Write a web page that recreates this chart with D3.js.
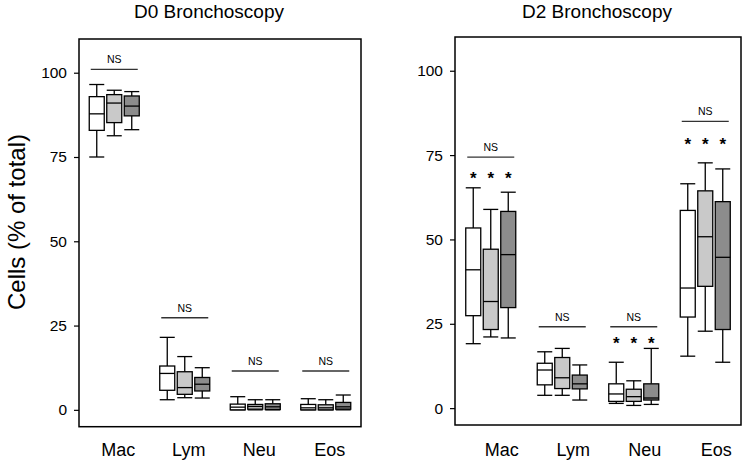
<!DOCTYPE html>
<html><head><meta charset="utf-8">
<script src="https://cdn.jsdelivr.net/npm/d3@7"></script>
<style>body{margin:0;background:#fff}svg{display:block}text{font-family:"Liberation Sans",Arial,sans-serif;fill:#000}</style>
</head><body><svg id="c" width="746" height="465"></svg>
<script>
// ---- data ----
const categories = ["Mac","Lym","Neu","Eos"];
const yTicks = [0,25,50,75,100];
const seriesNames = ["white","light","dark"];
// [low whisker, Q1, median, Q3, high whisker] per category
const d0_white = [[75.0,82.9,87.8,92.9,96.5],[3.0,5.8,10.8,13.0,21.5],[0,0,0.8,1.7,3.9],[0,0,0.6,1.6,3.3]];
const d0_light = [[81.3,85.2,91.0,93.5,94.8],[3.6,4.6,6.6,11.3,15.8],[0,0.2,1.0,1.6,3.0],[0,0,0.6,1.5,3.0]];
const d0_dark  = [[83.1,87.2,90.1,93.1,94.4],[3.5,5.6,7.6,9.6,12.5],[0,0.1,0.9,1.8,3.0],[0,0.2,0.9,2.2,4.4]];
const d2_white = [[19.1,27.4,41.0,53.4,65.3],[3.8,6.9,11.3,13.3,16.7],[1.4,2.0,4.2,7.2,13.6],[15.4,27.0,35.6,58.6,66.5]];
const d2_light = [[21.1,23.3,31.6,47.1,58.9],[3.8,5.8,9.0,15.0,17.7],[0.8,2.0,3.4,5.6,8.1],[22.8,36.1,50.8,64.4,72.7]];
const d2_dark  = [[20.8,29.8,45.5,58.3,64.0],[2.4,5.7,7.2,9.8,12.8],[1.1,2.4,3.0,7.2,17.7],[13.6,23.3,44.7,61.2,70.9]];
// NS bracket levels and significance star levels per category
const d0_ns = [101.0,27.3,11.5,11.5];
const d2_ns = [74.4,24.1,24.1,85.0];
const d0_stars = [null,null,null,null];
const d2_stars = [69.0,null,20.1,79.1];
const titles = ["D0 Bronchoscopy","D2 Bronchoscopy"];
const yLabel = "Cells (% of total)";

// ---- drawing ----
const svg = d3.select("#c");
const fills = {white:"#ffffff", light:"#c9c9c9", dark:"#8c8c8c"};
const panels = [
  {title:titles[0], series:[d0_white,d0_light,d0_dark], ns:d0_ns, stars:d0_stars,
   x0:79, x1:361, y0:39, y1:426.7, titleX:209, labelShift:4},
  {title:titles[1], series:[d2_white,d2_light,d2_dark], ns:d2_ns, stars:d2_stars,
   x0:455, x1:741, y0:37, y1:425, titleX:597, labelShift:11}
];
const boxW = 15, offs = [-17.5,0,17.5];

panels.forEach(p=>{
  const g = svg.append("g");
  const x = d3.scaleBand().domain(categories).range([p.x0,p.x1]).padding(0);
  const y = d3.scaleLinear().domain([-5,110]).range([p.y1,p.y0]);
  const cx = c => x(c)+x.bandwidth()/2;

  // y axis
  const ax = g.append("g").attr("transform",`translate(${p.x0},0)`)
    .call(d3.axisLeft(y).tickValues(yTicks).tickSize(5).tickPadding(7));
  ax.select(".domain").remove();
  ax.selectAll(".tick line").attr("stroke","#000").attr("stroke-width",1.2);
  ax.selectAll(".tick text").style("font-size","15.5px").style("font-family",'"Liberation Sans",Arial,sans-serif').attr("fill","#000");

  // category labels
  g.selectAll(".cat").data(categories).join("text")
    .attr("x",c=>cx(c)+p.labelShift).attr("y",455.5)
    .attr("text-anchor","middle").style("font-size","18px").text(c=>c);

  // title
  g.append("text").attr("x",p.titleX).attr("y",17.5).attr("text-anchor","middle")
    .style("font-size","19px").text(p.title);

  // boxes
  p.series.forEach((ser,si)=>{
    ser.forEach((v,ci)=>{
      const c = categories[ci];
      const xc = cx(c)+offs[si];
      const bg = g.append("g");
      const line=(x1,y1,x2,y2)=>bg.append("line").attr("x1",x1).attr("y1",y1).attr("x2",x2).attr("y2",y2)
        .attr("stroke","#000").attr("stroke-width",1.3);
      line(xc,y(v[4]),xc,y(v[3]));
      line(xc,y(v[0]),xc,y(v[1]));
      line(xc-boxW/2,y(v[4]),xc+boxW/2,y(v[4]));
      line(xc-boxW/2,y(v[0]),xc+boxW/2,y(v[0]));
      bg.append("rect").attr("x",xc-boxW/2).attr("y",y(v[3]))
        .attr("width",boxW).attr("height",Math.max(0.01,y(v[1])-y(v[3])))
        .attr("fill",fills[seriesNames[si]]).attr("stroke","#000").attr("stroke-width",1.3);
      line(xc-boxW/2,y(v[2]),xc+boxW/2,y(v[2]));
    });
  });

  // NS brackets
  p.ns.forEach((v,ci)=>{
    if(v==null) return;
    const c = categories[ci], xc = cx(c);
    g.append("line").attr("x1",xc-23.5).attr("x2",xc+23.5).attr("y1",y(v)).attr("y2",y(v))
      .attr("stroke","#333").attr("stroke-width",1.4);
    g.append("text").attr("x",xc).attr("y",y(v)-6).attr("text-anchor","middle")
      .style("font-size","10.5px").text("NS");
  });

  // stars
  p.stars.forEach((v,ci)=>{
    if(v==null) return;
    const c = categories[ci];
    offs.forEach(o=>{
      g.append("text").attr("x",cx(c)+o).attr("y",y(v)+9).attr("text-anchor","middle")
        .style("font-size","17px").style("font-weight","bold").text("*");
    });
  });

  // frame
  g.append("rect").attr("x",p.x0).attr("y",p.y0).attr("width",p.x1-p.x0).attr("height",p.y1-p.y0)
    .attr("fill","none").attr("stroke","#000").attr("stroke-width",1.5);
});

// y label
svg.append("text").attr("transform","translate(25,222) rotate(-90)")
  .attr("text-anchor","middle").style("font-size","24px").text(yLabel);
</script></body></html>
